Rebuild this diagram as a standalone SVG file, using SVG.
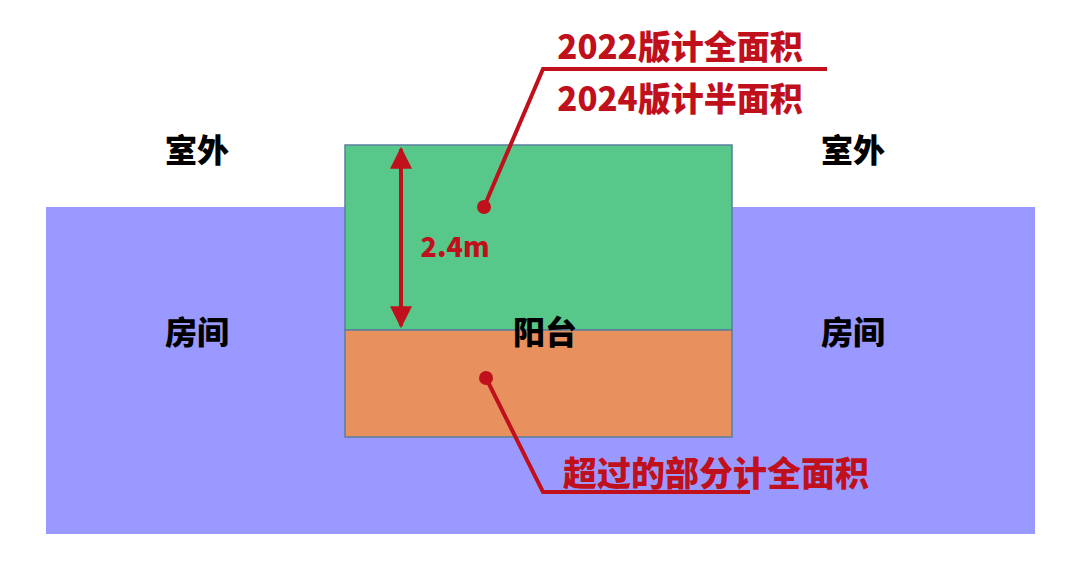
<svg xmlns="http://www.w3.org/2000/svg" width="1080" height="563" viewBox="0 0 1080 563">
<style>
.lbl{font-family:"Noto Sans CJK SC","Liberation Sans",sans-serif;font-weight:900;font-size:32px;fill:#000;text-anchor:middle}
.red{font-family:"Noto Sans CJK SC","Liberation Sans",sans-serif;font-weight:900;fill:#C0101C;text-anchor:middle}
.ln{stroke:#C0101C;stroke-width:4;fill:none}
</style>
<defs>
<marker id="ah" viewBox="0 0 10 10" refX="9" refY="5" markerWidth="5.5" markerHeight="5.5" orient="auto-start-reverse" markerUnits="strokeWidth">
<path d="M0,0 L10,5 L0,10 z" fill="#C0101C"/>
</marker>
</defs>
<rect width="1080" height="563" fill="#fff"/>
<g id="room">
<rect x="46" y="207" width="989" height="327" fill="#9999FF"/>
<text class="lbl" x="197" y="344">房间</text>
<text class="lbl" x="853" y="344">房间</text>
</g>
<g id="outside">
<text class="lbl" x="197" y="162">室外</text>
<text class="lbl" x="853" y="162">室外</text>
</g>
<g id="balcony">
<rect x="345" y="145" width="387" height="185" fill="#57C88A" stroke="#5A7F9E" stroke-width="1.5"/>
<rect x="345" y="330" width="387" height="107" fill="#E8905E" stroke="#5A7F9E" stroke-width="1.5"/>
<text class="lbl" x="545" y="344">阳台</text>
</g>
<g id="connectors">
<line class="ln" x1="401" y1="149" x2="401" y2="326" marker-start="url(#ah)" marker-end="url(#ah)"/>
<polyline class="ln" points="484,207 543,69 827,69"/>
<circle cx="484" cy="207" r="7" fill="#C0101C"/>
<polyline class="ln" points="486,378 543,492 750,492"/>
<circle cx="486" cy="378" r="7" fill="#C0101C"/>
</g>
<g id="labels">
<text class="red" x="455" y="257" font-size="27">2.4m</text>
<text class="red" x="680" y="59" font-size="33">2022版计全面积</text>
<text class="red" x="680" y="111" font-size="33">2024版计半面积</text>
<text class="red" x="716" y="486" font-size="34">超过的部分计全面积</text>
</g>
</svg>
